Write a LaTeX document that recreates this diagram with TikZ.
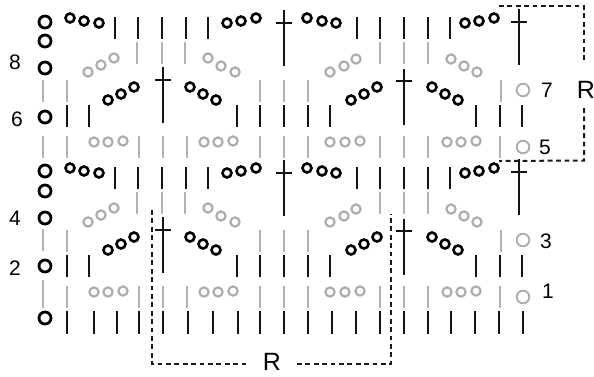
\documentclass[tikz,border=0pt]{standalone}
\usepackage{fontspec}
\setmainfont{Liberation Sans}
\tikzset{
  blackbar/.style={draw=black!92,line width=2.1pt},
  graybar/.style={draw=black!30,line width=2.1pt},
  blackring/.style={draw=black,line width=2.6pt},
  grayring/.style={draw=black!32,line width=2.2pt},
  sidering/.style={draw=black,line width=2.8pt},
  bigring/.style={draw=black!32,line width=1.9pt},
  repeatline/.style={draw=black!90,line width=2pt,dash pattern=on 4.8pt off 3.6pt},
  crossbar/.style={draw=black!92,line width=1.8pt},
  lab/.style={font=\fontsize{21}{21}\selectfont,text=black,inner sep=0pt},
  rlab/.style={font=\fontsize{25}{25}\selectfont,text=black,inner sep=0pt}
}
\begin{document}
\begin{tikzpicture}[x=1pt,y=-1pt]
\useasboundingbox (0,0) rectangle (594,376);
% left-hand column of rings
\foreach \y in {22,41,68,117,171,191,218,266,318}
  \draw[sidering] (45,\y) circle (6);
\foreach \y/\e in {80/102,136/158,229/251,280/302}
  \draw[graybar] (43,\y) -- (43,\e);
% the repeated block
\foreach \s in {0,150}{
\begin{scope}[shift={(0,\s)}]
  % row of black rings and bars, top of block
  \foreach \x/\y in {70/18,84/21,99/23,227/23,241/21,256/18,307/18,322/21,336/23,465/23,479/21,494/18}
    \draw[blackring] (\x,\y) circle (4.5);
  \foreach \x in {115,138,162,186,208,357,380,404,428,450}
    \draw[blackbar] (\x,17) -- (\x,39);
  % gray row with slanted rings
  \foreach \x in {137,162,185,380,404,428}
    \draw[graybar] (\x,42) -- (\x,64);
  \foreach \x/\y in {88/72,101/65,114/58,208/58,221/66,235/72,330/72,344/66,356/59,451/59,464/66,477/72}
    \draw[grayring] (\x,\y) circle (4.6);
  % gray bars
  \foreach \x in {67,260,284,308,501}
    \draw[graybar] (\x,80) -- (\x,102);
  % black slanted rings
  \foreach \x/\y in {108/100,121/94,134/87,190/87,203/94,216/100,351/100,364/94,377/87,432/87,445/94,458/100}
    \draw[blackring] (\x,\y) circle (4.5);
  % crosses in the middle of the block
  \foreach \x/\a/\b/\h in {163/67/123/80,404/69/125/81}{
    \draw[crossbar] (\x,\a) -- (\x,\b);
    \draw[crossbar] ({\x-8},\h) -- ({\x+8},\h);
  }
  % black bars
  \foreach \x in {67,89,237,260,284,308,330,476,500,522}
    \draw[blackbar] (\x,105) -- (\x,127);
  % gray row with level rings
  \foreach \x in {43,67,139,163,187,260,284,308,380,404,428,500}
    \draw[graybar] (\x,136) -- (\x,158);
  \foreach \x/\y in {94/142,108/142,123/141,204/142,218/142,233/141,330/142,345/142,360/141,447/142,461/142,476/141}
    \draw[grayring] (\x,\y) circle (4.6);
  % right-hand gray rings
  \draw[bigring] (523,90) circle (6.3);
  \draw[bigring] (523,147) circle (6.3);
  % crosses between blocks
  \foreach \x/\a/\b/\h in {284/10/66/23,519/9/65/22}{
    \draw[crossbar] (\x,\a) -- (\x,\b);
    \draw[crossbar] ({\x-8},\h) -- ({\x+8},\h);
  }
\end{scope}}
% bottom row
\foreach \x in {67,94,117,139,163,188,213,238,260,284,308,332,356,380,404,428,451,475,499,523}
  \draw[blackbar] (\x,311) -- (\x,334);
% row numbers
\node[lab] (n8) at (15,62) {8};
\node[lab] (n6) at (17,119) {6};
\node[lab] (n4) at (15,218) {4};
\node[lab] (n2) at (15,268) {2};
\node[lab] (n7) at (547,90) {7};
\node[lab] (n5) at (545,147) {5};
\node[lab] (n3) at (546,241) {3};
\node[lab] (n1) at (548,291) {1};
% repeat marks
\node[rlab] (r1) at (586,90) {R};
\node[rlab] (r2) at (272,362) {R};
\coordinate (a1) at (499,6);
\coordinate (a2) at (584,6);
\coordinate (a3) at (584,60);
\coordinate (a4) at (584,108);
\coordinate (a5) at (584,160.5);
\coordinate (a6) at (499,161);
\draw[repeatline] (a1) -- (a2) -- (a3);
\draw[repeatline] (a4) -- (a5) -- (a6);
\coordinate (b1) at (152,210);
\coordinate (b2) at (152,364);
\coordinate (b3) at (247,364);
\coordinate (b4) at (297,364);
\coordinate (b5) at (391,364);
\coordinate (b6) at (391,214);
\draw[repeatline] (b1) -- (b2) -- (b3);
\draw[repeatline] (b4) -- (b5) -- (b6);
\end{tikzpicture}
\end{document}
